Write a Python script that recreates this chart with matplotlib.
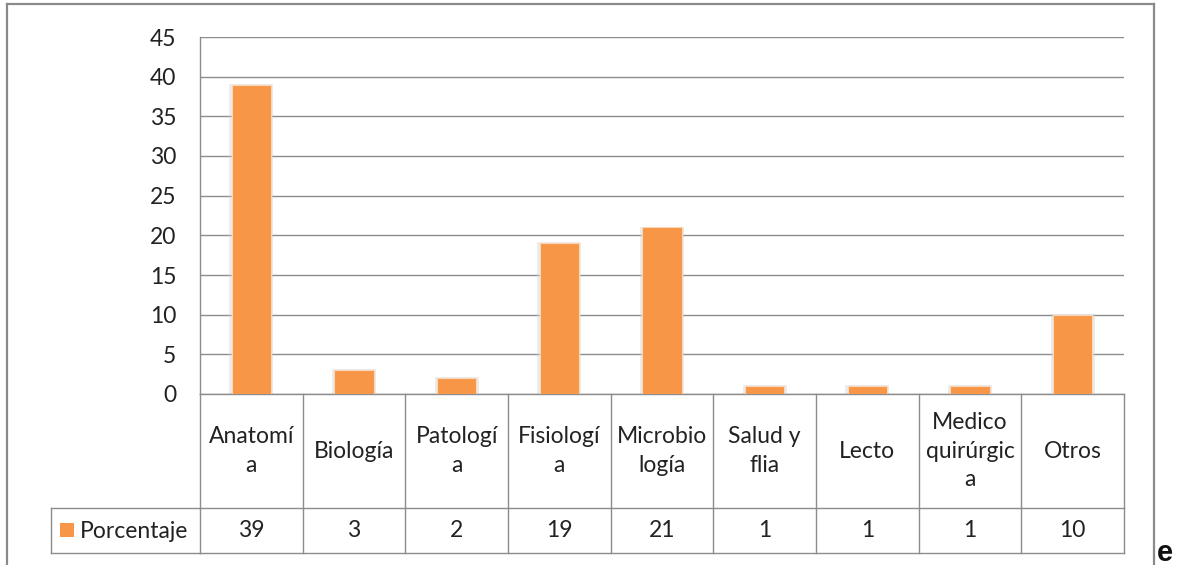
import matplotlib.pyplot as plt
import matplotlib.transforms as mtransforms
from matplotlib.patches import Rectangle
from matplotlib.lines import Line2D

# data
categories = ["Anatomí\na", "Biología", "Patologí\na", "Fisiologí\na", "Microbio\nlogía",
              "Salud y\nflia", "Lecto", "Medico\nquirúrgic\na", "Otros"]
porcentaje = [39, 3, 2, 19, 21, 1, 1, 1, 10]
series_name = "Porcentaje"
y_ticks = [0, 5, 10, 15, 20, 25, 30, 35, 40, 45]

W, H = 1182, 565
orange = "#F79646"
grid = "#8c8c8c"
fs = 16.5

plt.rcParams["font.family"] = ["Lato", "DejaVu Sans"]

fig = plt.figure(figsize=(W / 100, H / 100), dpi=100)

# plot area in pixels: x 200..1124, y 37..394
px_l, px_r, px_t, px_b = 200, 1124, 37, 394
ax = fig.add_axes([px_l / W, 1 - px_b / H, (px_r - px_l) / W, (px_b - px_t) / H])

x = list(range(len(categories)))
# soft shadow behind the bars
ax.bar(x, [v + 0.1 for v in porcentaje], width=0.43, color="#d6d6d6", alpha=0.45, zorder=2)
ax.bar(x, porcentaje, width=0.38, color=orange, edgecolor="#fbd7b8", linewidth=0.8, zorder=3)

ax.set_xlim(-0.5, len(categories) - 0.5)
ax.set_ylim(0, 45)
ax.set_yticks(y_ticks)
ax.set_yticklabels([str(t) for t in y_ticks], fontsize=fs, color="#222222")
ax.tick_params(axis="y", length=0, pad=17)
ax.tick_params(axis="x", bottom=False, labelbottom=False)
ax.yaxis.grid(True, color=grid, linewidth=1.0, zorder=0)
ax.set_axisbelow(True)
for side in ["top", "right", "bottom"]:
    ax.spines[side].set_visible(False)
ax.spines["left"].set_color(grid)
ax.spines["left"].set_linewidth(1.0)

# data table below the plot area
trans = mtransforms.blended_transform_factory(ax.transData, ax.transAxes)
plot_h = px_b - px_t
y_head = -(508 - px_b) / plot_h
y_val = -(553 - px_b) / plot_h
n = len(categories)

def hline(x0, x1, y, tr=trans):
    ax.add_line(Line2D([x0, x1], [y, y], transform=tr, color=grid, lw=1.0, clip_on=False))

def vline(xx, y0, y1, tr=trans):
    ax.add_line(Line2D([xx, xx], [y0, y1], transform=tr, color=grid, lw=1.0, clip_on=False))

hline(-0.5, n - 0.5, 0)
hline(-0.5, n - 0.5, y_head)
hline(-0.5, n - 0.5, y_val)
for i in range(n + 1):
    vline(i - 0.5, 0, y_val)

for i, (cat, v) in enumerate(zip(categories, porcentaje)):
    ax.text(i, y_head / 2, cat, transform=trans, ha="center", va="center",
            fontsize=fs, color="#222222", linespacing=1.45)
    ax.text(i, (y_head + y_val) / 2, str(v), transform=trans, ha="center", va="center",
            fontsize=fs, color="#222222")

# legend cell on the left of the value row
leg_l = (51 - px_l) / (px_r - px_l)
tax = ax.transAxes
hline(leg_l, 0, y_head, tax)
hline(leg_l, 0, y_val, tax)
vline(leg_l, y_head, y_val, tax)
fig.add_artist(Rectangle((60 / W, 1 - 537 / H), 14 / W, 14 / H, transform=fig.transFigure,
                         facecolor=orange, edgecolor="none"))
fig.text(80 / W, 1 - 531 / H, series_name, ha="left", va="center", fontsize=fs, color="#222222")

# outer chart frame (bottom edge cut off in the reference)
frame = dict(color="#8a8a8a", lw=1.6, transform=fig.transFigure)
fig.add_artist(Line2D([7 / W, 7 / W], [1 - 4 / H, 0], **frame))
fig.add_artist(Line2D([7 / W, 1154 / W], [1 - 4 / H, 1 - 4 / H], **frame))
fig.add_artist(Line2D([1154 / W, 1154 / W], [1 - 4 / H, 0], **frame))

fig.text(1157 / W, 1 - 561 / H, "e", ha="left", va="baseline", fontsize=21,
         fontweight="bold", family="Liberation Sans", color="#111111")

fig.savefig("out.png", dpi=100)
